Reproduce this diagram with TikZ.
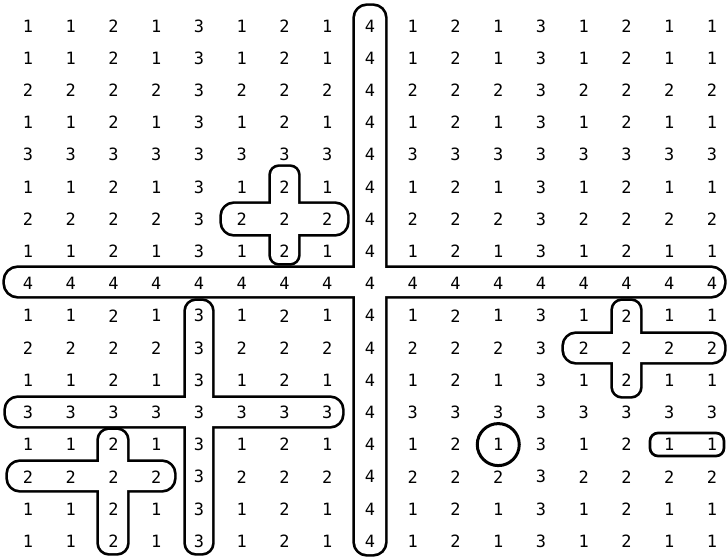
\documentclass[tikz,border=0pt]{standalone}
\usepackage{fontspec}
\newfontfamily\digitfont{DejaVu Sans Mono}
\begin{document}
\begin{tikzpicture}[x=1bp,y=-1bp,
  num/.style={font=\digitfont\fontsize{17}{17}\selectfont, inner sep=0pt},
  outline/.style={line width=5.4bp, line join=round, rounded corners=#1},
  outline/.default=11,
  hollow/.style={fill=white, rounded corners=#1},
  hollow/.default=11]
\useasboundingbox (0,0) rectangle (728,560);
\fill[white] (0,0) rectangle (728,560);
\def\seq{{1,1,2,1,3,1,2,1,4,1,2,1,3,1,2,1,1}}

% big cross (column 8 and row 8)
\draw[outline=12] (355,6) rectangle (385,554);
\draw[outline=13] (5,268) rectangle (724,296);
\fill[hollow=12] (355,6) rectangle (385,554);
\fill[hollow=13] (5,268) rectangle (724,296);

% small plus, upper left (row 6, column 6)
\draw[outline=8] (271,167) rectangle (298,263);
\draw[outline=12] (222,204) rectangle (347,234);
\fill[hollow=8] (271,167) rectangle (298,263);
\fill[hollow=12] (222,204) rectangle (347,234);

% cross, lower left (row 12, column 4)
\draw[outline=10] (186,301) rectangle (212,553);
\draw[outline=12] (6,398) rectangle (342,426);
\fill[hollow=10] (186,301) rectangle (212,553);
\fill[hollow=12] (6,398) rectangle (342,426);

% small plus (row 14, column 2)
\draw[outline=10] (99,430) rectangle (127,553);
\draw[outline=12] (8,462) rectangle (174,490);
\fill[hollow=10] (99,430) rectangle (127,553);
\fill[hollow=12] (8,462) rectangle (174,490);

% small plus, right (row 10, column 14)
\draw[outline=9] (613,301) rectangle (640,396);
\draw[outline=12] (564,334) rectangle (724,362);
\fill[hollow=9] (613,301) rectangle (640,396);
\fill[hollow=12] (564,334) rectangle (724,362);

% circle and pill (row 13)
\draw[line width=3bp] (498.25,444.6) circle (21);
\draw[line width=2.7bp, rounded corners=8] (650,433) rectangle (724,456);

% grid of numbers
\foreach \r in {0,...,16} {
  \foreach \c in {0,...,16} {
    \pgfmathtruncatemacro\ar{\seq[\r]}
    \pgfmathtruncatemacro\ac{\seq[\c]}
    \pgfmathtruncatemacro\v{max(\ar,\ac)}
    \node[num] (n-\r-\c) at ({28+42.75*\c},{26+32.2*\r}) {\v};
  }
}
\end{tikzpicture}
\end{document}
